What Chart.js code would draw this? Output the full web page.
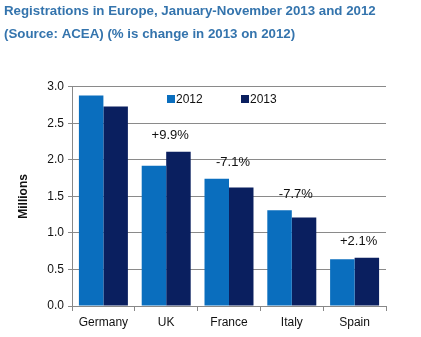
<!DOCTYPE html>
<html><head><meta charset="utf-8">
<script src="https://cdn.jsdelivr.net/npm/chart.js@4"></script>
<style>html,body{margin:0;padding:0;background:#fff}#wrap{width:421px;height:337px}</style>
</head><body><div id="wrap"><canvas id="c" width="421" height="337"></canvas></div>
<script>
const categories = ["Germany", "UK", "France", "Italy", "Spain"];
const values2012 = [2.88, 1.92, 1.74, 1.31, 0.64];
const values2013 = [2.73, 2.11, 1.62, 1.21, 0.66];
const changeLabels = ["", "+9.9%", "-7.1%", "-7.7%", "+2.1%"];
const yTicks = [0, 0.5, 1.0, 1.5, 2.0, 2.5, 3.0];
const seriesNames = ["2012", "2013"];
const titleLines = ["Registrations in Europe, January-November 2013 and 2012", "(Source: ACEA) (% is change in 2013 on 2012)"];

const C2012 = "#0a6ebe", C2013 = "#0a1f5f";

const changePlugin = {
  id: "changeLabels",
  afterDatasetsDraw(chart) {
    const ctx = chart.ctx, xs = chart.scales.x, ys = chart.scales.y;
    ctx.save();
    ctx.font = "13px 'Liberation Sans', Arial, sans-serif";
    ctx.fillStyle = "#111";
    ctx.textAlign = "center";
    ctx.textBaseline = "middle";
    changeLabels.forEach((t, i) => {
      if (!t) return;
      const top = ys.getPixelForValue(Math.max(values2012[i], values2013[i]));
      ctx.fillText(t, xs.getPixelForValue(i) + 4, top - 16);
    });
    ctx.restore();
  }
};

const legendPlugin = {
  id: "innerLegend",
  afterDraw(chart) {
    const ctx = chart.ctx;
    const y = 99;
    const xsq = [167, 241];
    ctx.save();
    ctx.font = "12px 'Liberation Sans', Arial, sans-serif";
    ctx.textBaseline = "middle";
    ctx.textAlign = "left";
    chart.data.datasets.forEach((ds, i) => {
      ctx.fillStyle = ds.backgroundColor;
      ctx.fillRect(xsq[i], y - 4, 8, 8);
      ctx.fillStyle = "#111";
      ctx.fillText(ds.label, xsq[i] + 9, y + 1);
    });
    ctx.restore();
  }
};

new Chart(document.getElementById("c"), {
  type: "bar",
  data: {
    labels: categories,
    datasets: [
      { label: seriesNames[0], data: values2012, backgroundColor: C2012, barPercentage: 1.0, categoryPercentage: 0.78 },
      { label: seriesNames[1], data: values2013, backgroundColor: C2013, barPercentage: 1.0, categoryPercentage: 0.78 }
    ]
  },
  options: {
    responsive: false,
    animation: false,
    layout: { padding: { left: 4, right: 35, top: 0, bottom: 0 } },
    plugins: {
      legend: { display: false },
      tooltip: { enabled: false },
      title: {
        display: true,
        text: titleLines,
        align: "start",
        color: "#3474ad",
        font: { family: "'Liberation Sans', Arial, sans-serif", size: 13.3, weight: "bold", lineHeight: 1.72 },
        padding: { top: 0, bottom: 41 }
      }
    },
    scales: {
      x: {
        offset: true,
        grid: { display: true, drawOnChartArea: false, offset: true, color: "#888", tickLength: 5 },
        border: { display: true, color: "#888" },
        ticks: { color: "#111", padding: 4, font: { family: "'Liberation Sans', Arial, sans-serif", size: 12 } },
        afterFit(s) { s.height = 31; }
      },
      y: {
        min: 0, max: 3,
        afterBuildTicks(s) { s.ticks = yTicks.map(v => ({ value: v })); },
        grid: { color: "#8a8a8a", tickLength: 4 },
        border: { display: true, color: "#888" },
        ticks: { color: "#111", padding: 4, font: { family: "'Liberation Sans', Arial, sans-serif", size: 12 }, callback: v => Number(v).toFixed(1) },
        title: { display: true, text: "Millions", color: "#111", font: { family: "'Liberation Sans', Arial, sans-serif", size: 12, weight: "bold" }, padding: { top: 12, bottom: 0 } },
        afterFit(s) { s.width = 68; }
      }
    }
  },
  plugins: [changePlugin, legendPlugin]
});
</script></body></html>
